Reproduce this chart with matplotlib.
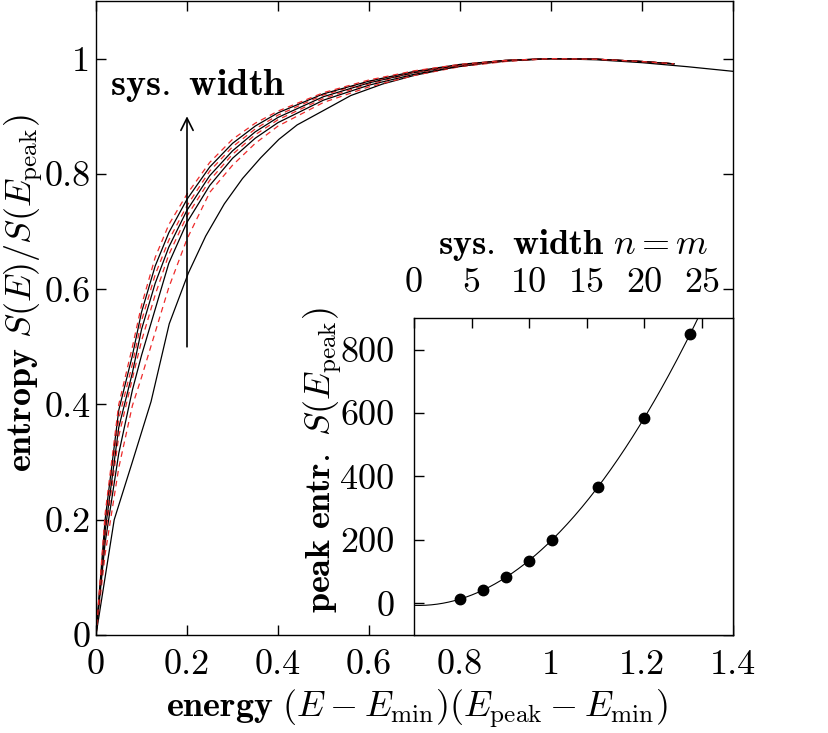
import numpy as np
import matplotlib
matplotlib.use("Agg")
import matplotlib.pyplot as plt
from matplotlib.ticker import FixedLocator, FixedFormatter

plt.rcParams['font.family'] = 'serif'
plt.rcParams['font.serif'] = ['cmr10']
plt.rcParams['mathtext.fontset'] = 'cm'
plt.rcParams['axes.unicode_minus'] = False
plt.rcParams['axes.formatter.use_mathtext'] = True

# ---------------- data: main panel ----------------
x_grid = [0, 0.02, 0.05, 0.08, 0.1, 0.13, 0.16, 0.2, 0.25, 0.3, 0.35, 0.4,
          0.5, 0.6, 0.7, 0.8, 0.9, 1.0, 1.1, 1.2, 1.27]

# smallest system (coarse data, extends to 1.4)
x_c1 = [0, 0.04, 0.079, 0.121, 0.161, 0.203, 0.241, 0.282, 0.322, 0.362, 0.402,
        0.442, 0.5, 0.56, 0.63, 0.7, 0.78, 0.85, 0.92, 1.0, 1.1, 1.2, 1.3, 1.4]
y_c1 = [0, 0.2, 0.298, 0.405, 0.54, 0.628, 0.692, 0.748, 0.792, 0.828, 0.86,
        0.885, 0.91, 0.936, 0.956, 0.971, 0.984, 0.992, 0.997, 1.0, 0.998,
        0.993, 0.986, 0.978]

y_c2 = [0, 0.14, 0.29, 0.398, 0.447, 0.525, 0.603, 0.687, 0.768, 0.815, 0.853, 0.883,
        0.924, 0.951, 0.971, 0.986, 0.995, 1.0, 0.999, 0.995, 0.991]
y_c3 = [0, 0.16, 0.315, 0.425, 0.485, 0.565, 0.645, 0.716, 0.78, 0.827, 0.862, 0.889,
        0.928, 0.954, 0.973, 0.987, 0.996, 1.0, 0.999, 0.995, 0.991]
y_c4 = [0, 0.17, 0.345, 0.445, 0.51, 0.59, 0.66, 0.727, 0.789, 0.834, 0.868, 0.894,
        0.931, 0.956, 0.975, 0.988, 0.996, 1.0, 0.999, 0.995, 0.991]
y_c5 = [0, 0.18, 0.36, 0.455, 0.53, 0.61, 0.673, 0.737, 0.797, 0.84, 0.873, 0.898,
        0.934, 0.958, 0.976, 0.989, 0.997, 1.0, 0.999, 0.995, 0.991]
y_c6 = [0, 0.19, 0.375, 0.47, 0.545, 0.625, 0.685, 0.745, 0.805, 0.847, 0.878, 0.902,
        0.937, 0.96, 0.977, 0.989, 0.997, 1.0, 0.999, 0.995, 0.991]
y_c7 = [0, 0.2, 0.39, 0.485, 0.56, 0.64, 0.698, 0.756, 0.812, 0.853, 0.883, 0.906,
        0.939, 0.961, 0.978, 0.99, 0.997, 1.0, 0.999, 0.995, 0.991]
y_c8 = [0, 0.21, 0.4, 0.5, 0.572, 0.655, 0.712, 0.765, 0.82, 0.86, 0.888, 0.909,
        0.941, 0.963, 0.979, 0.99, 0.997, 1.0, 0.999, 0.995, 0.991]

x_ticks = [0, 0.2, 0.4, 0.6, 0.8, 1.0, 1.2, 1.4]
x_ticklabels = ['0', '0.2', '0.4', '0.6', '0.8', '1', '1.2', '1.4']
y_ticks = [0, 0.2, 0.4, 0.6, 0.8, 1.0]
y_ticklabels = ['0', '0.2', '0.4', '0.6', '0.8', '1']

# ---------------- data: inset ----------------
width_n = [4, 6, 8, 10, 12, 16, 20, 24]
peak_S = [13, 42, 83, 135, 201, 368, 585, 851]
in_xticks = [0, 5, 10, 15, 20, 25]
in_yticks = [0, 200, 400, 600, 800]

FS = 26
RED = '#ee2a2a'

fig = plt.figure(figsize=(8.29, 7.33), dpi=100)
ax = fig.add_axes([96/829, 98/733, 637/829, 634/733])

ax.plot(x_c1, y_c1, color='black', lw=0.9)
curves = [y_c2, y_c3, y_c4, y_c5, y_c6, y_c7, y_c8]
for i, yc in enumerate(curves):
    if i % 2 == 0:
        ax.plot(x_grid, yc, color=RED, lw=0.9, dashes=(4.5, 3.5))
    else:
        ax.plot(x_grid, yc, color='black', lw=0.9)

ax.set_xlim(0, 1.4)
ax.set_ylim(0, 1.1)
ax.xaxis.set_major_locator(FixedLocator(x_ticks))
ax.xaxis.set_major_formatter(FixedFormatter(x_ticklabels))
ax.yaxis.set_major_locator(FixedLocator(y_ticks))
ax.yaxis.set_major_formatter(FixedFormatter(y_ticklabels))
ax.tick_params(direction='in', length=7, width=1.0, top=True, right=True,
               labelsize=FS)
ax.tick_params(axis='x', pad=10)
ax.tick_params(axis='y', pad=4)
for s in ax.spines.values():
    s.set_linewidth(1.0)

ax.set_xlabel(r'$\mathbf{energy}\ (E-E_{\mathrm{min}})(E_{\mathrm{peak}}-E_{\mathrm{min}})$',
              fontsize=FS)
ax.xaxis.label.set_va('center')
ax.xaxis.set_label_coords(0.504, -0.117)
ax.set_ylabel(r'$\mathbf{entropy}\ S(E)/S(E_{\mathrm{peak}})$', fontsize=FS)
ax.yaxis.label.set_va('center')
ax.yaxis.set_label_coords(-0.113, 0.54)

ax.annotate('', xy=(0.2, 0.9), xytext=(0.2, 0.5),
            arrowprops=dict(arrowstyle='->', lw=1.2, color='black',
                            mutation_scale=22, shrinkA=0, shrinkB=0))
ax.text(0.03, 0.953, r'$\mathbf{sys.\ width}$', fontsize=27.5,
        ha='left', va='center')

# ---------------- inset ----------------
axi = fig.add_axes([414/829, 98/733, 319/829, 317/733])
axi.set_facecolor('white')
coef = np.polyfit(width_n, peak_S, 2)
nn = np.linspace(0, 25, 200)
axi.plot(nn, np.polyval(coef, nn), color='black', lw=0.8)
axi.plot(width_n, peak_S, 'o', color='black', ms=7.5)
axi.set_xlim(0, 27.7)
axi.set_ylim(-100, 900)
axi.xaxis.tick_top()
axi.xaxis.set_label_position('top')
axi.xaxis.set_major_locator(FixedLocator(in_xticks))
axi.yaxis.set_major_locator(FixedLocator(in_yticks))
axi.xaxis.set_major_formatter(FixedFormatter([str(v) for v in in_xticks]))
axi.yaxis.set_major_formatter(FixedFormatter([str(v) for v in in_yticks]))
axi.tick_params(direction='in', length=7, width=1.0, top=True, bottom=False,
                left=True, right=False, labelsize=FS)
axi.tick_params(axis='x', pad=14)
axi.tick_params(axis='y', pad=14)
for s in axi.spines.values():
    s.set_linewidth(1.0)
axi.set_xlabel(r'$\mathbf{sys.\ width}\ n=m$', fontsize=FS)
axi.xaxis.label.set_va('center')
axi.xaxis.set_label_coords(0.5, 1.23)
axi.set_ylabel(r'$\mathbf{peak\ entr.}\ S(E_{\mathrm{peak}})$', fontsize=FS)
axi.yaxis.label.set_va('center')
axi.yaxis.set_label_coords(-0.285, 0.552)

fig.savefig('out.png', dpi=100)
